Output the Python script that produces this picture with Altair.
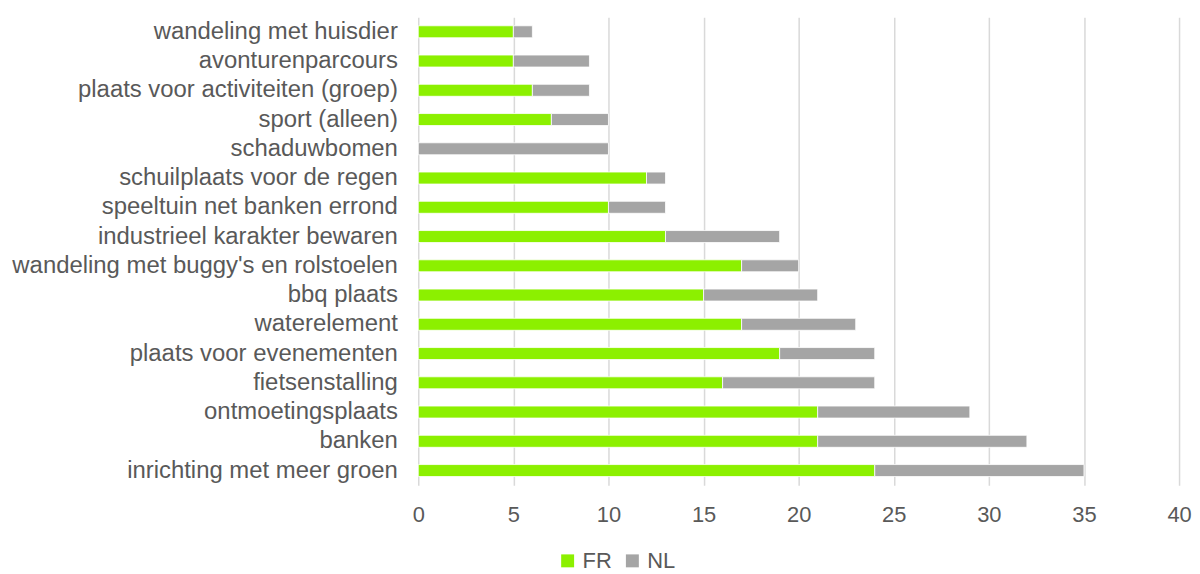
import altair as alt
import pandas as pd

categories = [
    "wandeling met huisdier",
    "avonturenparcours",
    "plaats voor activiteiten (groep)",
    "sport (alleen)",
    "schaduwbomen",
    "schuilplaats voor de regen",
    "speeltuin net banken errond",
    "industrieel karakter bewaren",
    "wandeling met buggy's en rolstoelen",
    "bbq plaats",
    "waterelement",
    "plaats voor evenementen",
    "fietsenstalling",
    "ontmoetingsplaats",
    "banken",
    "inrichting met meer groen",
]
fr_values = [5, 5, 6, 7, 0, 12, 10, 13, 17, 15, 17, 19, 16, 21, 21, 24]
nl_values = [1, 4, 3, 3, 10, 1, 3, 6, 3, 6, 6, 5, 8, 8, 11, 11]
series = ["FR", "NL"]
colors = ["#8CF000", "#A5A5A5"]
x_ticks = [0, 5, 10, 15, 20, 25, 30, 35, 40]

rows = []
for c, f, n in zip(categories, fr_values, nl_values):
    rows.append({"cat": c, "series": "FR", "value": f, "ord": 0})
    rows.append({"cat": c, "series": "NL", "value": n, "ord": 1})
df = pd.DataFrame(rows)

FONT = "Liberation Sans"
TXT = "#595959"

chart = alt.Chart(df).mark_bar(stroke="white", strokeWidth=0.8).encode(
    y=alt.Y("cat:N", sort=categories, title=None,
            scale=alt.Scale(paddingInner=0.59, paddingOuter=0.295),
            axis=alt.Axis(ticks=False, domain=False, labelFontSize=24, labelColor=TXT,
                          labelFont=FONT, labelPadding=21, labelLimit=600)),
    x=alt.X("value:Q", stack="zero", title=None,
            scale=alt.Scale(domain=[0, 40], nice=False),
            axis=alt.Axis(values=x_ticks, ticks=False, domain=False, labelFontSize=22,
                          labelColor=TXT, labelFont=FONT, labelPadding=19,
                          labelFlush=False,
                          gridColor="#D9D9D9", gridWidth=1.5)),
    color=alt.Color("series:N", scale=alt.Scale(domain=series, range=colors), title=None,
                    legend=alt.Legend(orient="none", legendX=139, legendY=535,
                                      direction="horizontal", symbolType="square",
                                      symbolSize=169, symbolStrokeWidth=0,
                                      labelFontSize=22, labelColor=TXT, labelFont=FONT,
                                      columnPadding=9, labelOffset=4)),
    order=alt.Order("ord:Q"),
).properties(
    width=764, height=470,
    autosize=alt.AutoSizeParams(type="none"),
    padding={"left": 412, "top": 8, "right": 13, "bottom": 88},
).configure_view(stroke=None)

chart.save("out.html", embed_options={"renderer": "svg", "actions": False})
